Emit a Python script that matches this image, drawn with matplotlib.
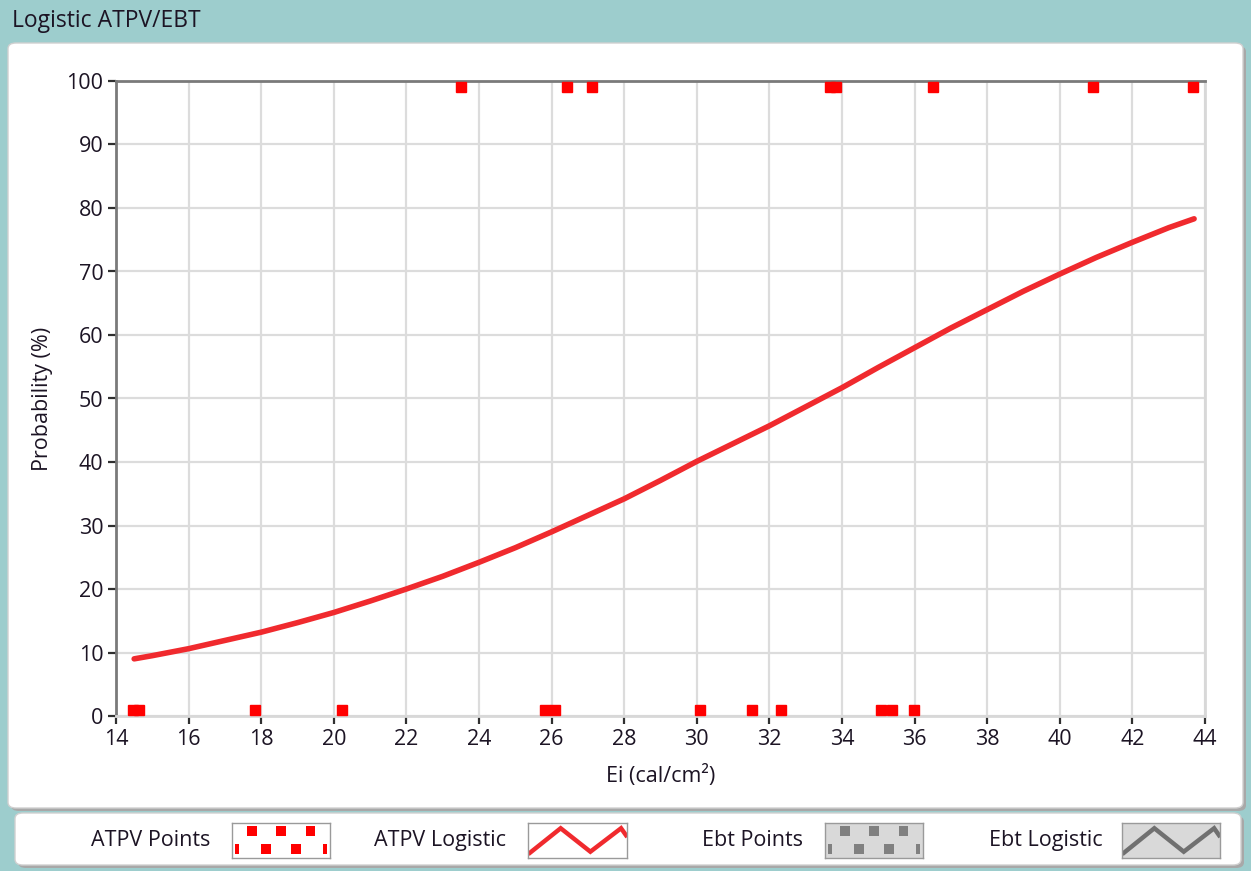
"""Logistic ATPV/EBT panel, LabVIEW-style graph with legend strip."""

import matplotlib

matplotlib.use("Agg")
import matplotlib.pyplot as plt
from matplotlib.patches import FancyBboxPatch, Rectangle

# --- data ------------------------------------------------------------------
atpv_fail_x = [14.47, 14.63, 17.84, 20.23, 25.82, 26.09, 30.09, 31.53,
               32.33, 35.07, 35.38, 35.98]
atpv_fail_y = [1] * len(atpv_fail_x)
atpv_pass_x = [23.51, 26.42, 27.11, 33.67, 33.83, 36.52, 40.92, 43.68]
atpv_pass_y = [99] * len(atpv_pass_x)

logit_x = [14.5, 15, 16, 17, 18, 19, 20, 21, 22, 23, 24, 25, 26, 27, 28, 29,
           30, 31, 32, 33, 34, 35, 36, 37, 38, 39, 40, 41, 42, 43, 43.7]
logit_y = [9.0, 9.5, 10.6, 11.9, 13.2, 14.7, 16.3, 18.1, 20.0, 22.0, 24.2,
           26.5, 29.0, 31.6, 34.2, 37.1, 40.1, 42.9, 45.7, 48.7, 51.7, 54.9,
           58.0, 61.1, 64.0, 66.9, 69.6, 72.2, 74.6, 76.9, 78.3]

x_ticks = list(range(14, 45, 2))
y_ticks = list(range(0, 101, 10))

legend_labels = ["ATPV Points", "ATPV Logistic", "Ebt Points", "Ebt Logistic"]

# --- styling -----------------------------------------------------------------
W, H = 1251, 871
TEAL = "#9dcdcd"
RED = "#ff0000"
CURVE = "#f02a2e"
TEXT = "#1c1424"
FONT = ["Open Sans", "DejaVu Sans"]
FS = 15.5

plt.rcParams["font.family"] = FONT

fig = plt.figure(figsize=(W / 100, H / 100), dpi=100, facecolor=TEAL)


def px_box(x0, y0, x1, y1):
    """Pixel box (top-left origin) -> figure fraction [l, b, w, h]."""
    return [x0 / W, 1 - y1 / H, (x1 - x0) / W, (y1 - y0) / H]


def panel(x0, y0, x1, y1, r=8):
    l, b, w, h = px_box(x0, y0, x1, y1)
    shadow = FancyBboxPatch((l + 3 / W, b - 3 / H), w, h,
                            boxstyle=f"round,pad=0,rounding_size={r / W}",
                            transform=fig.transFigure, fc="#a8a8a8",
                            ec="none", zorder=-3)
    face = FancyBboxPatch((l, b), w, h,
                          boxstyle=f"round,pad=0,rounding_size={r / W}",
                          transform=fig.transFigure, fc="white",
                          ec="#d0d0d0", lw=1, zorder=-2)
    fig.patches.extend([shadow, face])


panel(8, 43, 1243, 808)
panel(15, 813, 1241, 865)

fig.text(12 / W, 1 - 21 / H, "Logistic ATPV/EBT", fontsize=16.5,
         color=TEXT, va="center", ha="left")

# --- main graph ---------------------------------------------------------------
ax = fig.add_axes(px_box(116, 81, 1205, 716))
ax.set_xlim(14, 44)
ax.set_ylim(0, 100)
ax.set_xticks(x_ticks)
ax.set_yticks(y_ticks)
ax.grid(True, color="#dcdcdc", lw=1.6)
ax.set_axisbelow(True)
ax.tick_params(direction="out", length=6, width=1.6, color="#303030",
               labelsize=FS, labelcolor=TEXT, pad=3)
for side, col in [("left", "#7a7a7a"), ("top", "#7a7a7a"),
                  ("bottom", "#d8d8d8"), ("right", "#d8d8d8")]:
    ax.spines[side].set_color(col)
    ax.spines[side].set_linewidth(2)

ax.plot(logit_x, logit_y, color=CURVE, lw=4.0, solid_capstyle="round",
        zorder=3)
ax.plot(atpv_fail_x, atpv_fail_y, ls="none", marker="s", ms=6.5, color=RED,
        mec=RED, zorder=4, clip_on=False)
ax.plot(atpv_pass_x, atpv_pass_y, ls="none", marker="s", ms=6.5, color=RED,
        mec=RED, zorder=4, clip_on=False)

ax.set_xlabel("Ei (cal/cm²)", fontsize=FS, color=TEXT, labelpad=11)
ax.set_ylabel("Probability (%)", fontsize=FS, color=TEXT, labelpad=10)

# --- legend strip --------------------------------------------------------------
swatches = [(232, 330, "white", "points", RED),
            (528, 627, "white", "line", CURVE),
            (825, 923, "#d9d9d9", "points", "#808080"),
            (1122, 1220, "#d9d9d9", "line", "#707070")]
text_right = [210, 506, 803, 1103]

for label, tr, (sx0, sx1, bg, kind, col) in zip(legend_labels, text_right,
                                                 swatches):
    fig.text(tr / W, 1 - 840 / H, label, fontsize=FS, color=TEXT,
             ha="right", va="center")
    sax = fig.add_axes(px_box(sx0, 823, sx1, 858))
    sax.set_xlim(0, 1)
    sax.set_ylim(0, 1)
    sax.set_xticks([])
    sax.set_yticks([])
    sax.set_facecolor(bg)
    for sp in sax.spines.values():
        sp.set_color("#9a9a9a")
        sp.set_linewidth(1)
    if kind == "points":
        for cx, cy in [(0.2, 0.78), (0.5, 0.78), (0.8, 0.78),
                       (0.35, 0.25), (0.65, 0.25)]:
            sax.add_patch(Rectangle((cx - 0.05, cy - 0.14), 0.1, 0.28,
                                    fc=col, ec="none"))
        for cx in (0.05, 0.95):
            sax.add_patch(Rectangle((cx - 0.02, 0.11), 0.04, 0.28,
                                    fc=col, ec="none"))
    else:
        sax.plot([0.02, 0.33, 0.63, 0.94, 0.99],
                 [0.15, 0.85, 0.18, 0.85, 0.65], color=col, lw=3.2,
                 solid_joinstyle="miter")

fig.savefig("out.png", dpi=100, facecolor=TEAL)
